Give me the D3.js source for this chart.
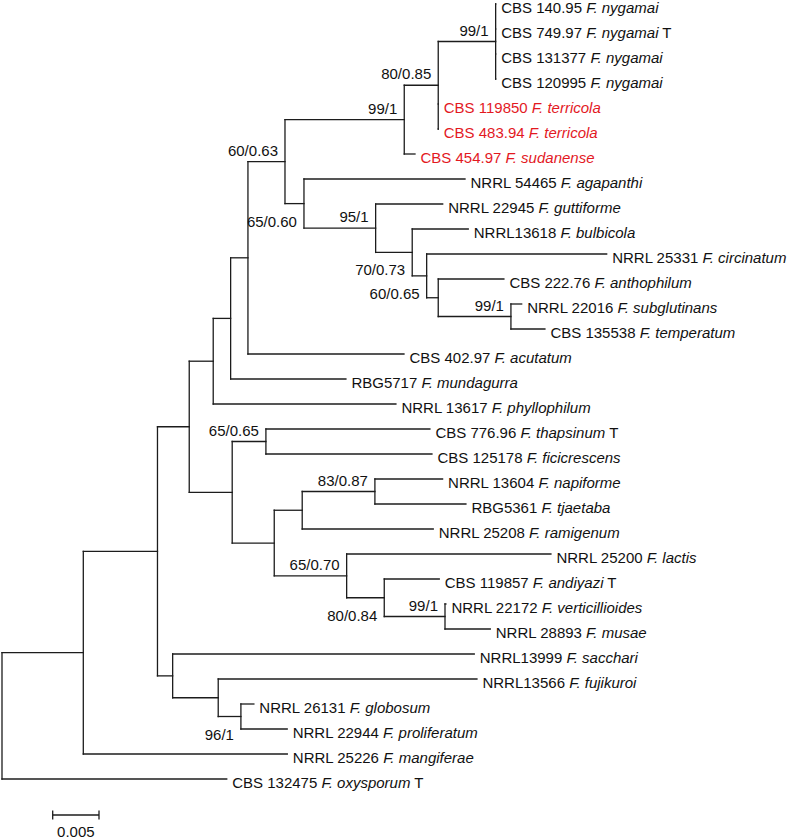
<!DOCTYPE html>
<html>
<head>
<meta charset="utf-8">
<script src="https://cdn.jsdelivr.net/npm/d3@7"></script>
<style>
  html, body { margin: 0; padding: 0; background: #fff; }
  svg text { font-family: "Liberation Sans", Arial, Helvetica, sans-serif; white-space: pre; }
</style>
</head>
<body>
<svg id="chart" width="796" height="838"></svg>
<script>
// ---------- DATA ----------
// Leaves in display order (top to bottom)
const leafStrains = [
  "CBS 140.95", "CBS 749.97", "CBS 131377", "CBS 120995",
  "CBS 119850", "CBS 483.94", "CBS 454.97",
  "NRRL 54465", "NRRL 22945", "NRRL13618", "NRRL 25331", "CBS 222.76",
  "NRRL 22016", "CBS 135538", "CBS 402.97", "RBG5717", "NRRL 13617",
  "CBS 776.96", "CBS 125178", "NRRL 13604", "RBG5361", "NRRL 25208",
  "NRRL 25200", "CBS 119857", "NRRL 22172", "NRRL 28893",
  "NRRL13999", "NRRL13566", "NRRL 26131", "NRRL 22944", "NRRL 25226",
  "CBS 132475"
];
const leafSpecies = [
  "F. nygamai", "F. nygamai", "F. nygamai", "F. nygamai",
  "F. terricola", "F. terricola", "F. sudanense",
  "F. agapanthi", "F. guttiforme", "F. bulbicola", "F. circinatum", "F. anthophilum",
  "F. subglutinans", "F. temperatum", "F. acutatum", "F. mundagurra", "F. phyllophilum",
  "F. thapsinum", "F. ficicrescens", "F. napiforme", "F. tjaetaba", "F. ramigenum",
  "F. lactis", "F. andiyazi", "F. verticillioides", "F. musae",
  "F. sacchari", "F. fujikuroi", "F. globosum", "F. proliferatum", "F. mangiferae",
  "F. oxysporum"
];
const leafTypeMarks = [
  "", "T", "", "", "", "", "", "", "", "", "", "", "", "", "", "", "",
  "T", "", "", "", "", "", "T", "", "", "", "", "", "", "", "T"
];

// Tree edges: [node, parent, branch length (substitutions/site), support (ML bootstrap / posterior)]
const treeEdges = [
  ["root", "", 0, ""],
  ["N1", "root", 0.00878, ""],
  ["N2", "N1", 0.00801, ""],
  ["D", "N2", 0.00343, ""],
  ["C", "D", 0.00259, ""],
  ["C2", "C", 0.00188, ""],
  ["A", "C2", 0.00187, ""],
  ["B", "A", 0.00400, "60/0.63"],
  ["M", "B", 0.01288, "99/1"],
  ["L", "M", 0.00367, "80/0.85"],
  ["Ny", "L", 0.00620, "99/1"],
  ["CBS 140.95", "Ny", 0, ""],
  ["CBS 749.97", "Ny", 0, ""],
  ["CBS 131377", "Ny", 0, ""],
  ["CBS 120995", "Ny", 0, ""],
  ["CBS 119850", "L", 0, ""],
  ["CBS 483.94", "L", 0, ""],
  ["CBS 454.97", "M", 0.00116, ""],
  ["P", "B", 0.00205, "65/0.60"],
  ["NRRL 54465", "P", 0.01739, ""],
  ["Q", "P", 0.00774, "95/1"],
  ["NRRL 22945", "Q", 0.00724, ""],
  ["R", "Q", 0.00395, "70/0.73"],
  ["NRRL13618", "R", 0.00605, ""],
  ["S", "R", 0.00156, "60/0.65"],
  ["NRRL 25331", "S", 0.01944, ""],
  ["T", "S", 0.00125, ""],
  ["CBS 222.76", "T", 0.00709, ""],
  ["U", "T", 0.00785, "99/1"],
  ["NRRL 22016", "U", 0.00116, ""],
  ["CBS 135538", "U", 0.00367, ""],
  ["CBS 402.97", "A", 0.01685, ""],
  ["RBG5717", "C2", 0.01245, ""],
  ["NRRL 13617", "C", 0.01973, ""],
  ["E", "D", 0.00464, ""],
  ["F", "E", 0.00364, "65/0.65"],
  ["CBS 776.96", "F", 0.01771, ""],
  ["CBS 125178", "F", 0.01793, ""],
  ["G", "E", 0.00454, ""],
  ["H", "G", 0.00302, ""],
  ["NT", "H", 0.00785, "83/0.87"],
  ["NRRL 13604", "NT", 0.00731, ""],
  ["RBG5361", "NT", 0.00983, ""],
  ["NRRL 25208", "H", 0.01415, ""],
  ["I", "G", 0.00782, "65/0.70"],
  ["NRRL 25200", "I", 0.02206, ""],
  ["J", "I", 0.00406, "80/0.84"],
  ["CBS 119857", "J", 0.00594, ""],
  ["K", "J", 0.00656, "99/1"],
  ["NRRL 22172", "K", 0.0001, ""],
  ["NRRL 28893", "K", 0.00489, ""],
  ["Ns", "N2", 0.00164, ""],
  ["NRRL13999", "Ns", 0.03257, ""],
  ["V", "Ns", 0.00492, ""],
  ["NRRL13566", "V", 0.02794, ""],
  ["W", "V", 0.00245, "96/1"],
  ["NRRL 26131", "W", 0.00140, ""],
  ["NRRL 22944", "W", 0.00500, ""],
  ["NRRL 25226", "N1", 0.02203, ""],
  ["CBS 132475", "root", 0.02427, ""]
];

const scaleBarValue = 0.005;

// ---------- STYLE / LAYOUT ----------
const highlightStrains = ["CBS 119850", "CBS 483.94", "CBS 454.97"];
const supportBelow = ["P", "R", "S", "J", "W"];
const lineColor = "#1c1c1c";
const textColor = "#111";
const redColor = "#e3191f";
const fontSize = 15;

const svg = d3.select("#chart");

const root = d3.stratify()
  .id(d => d[0])
  .parentId(d => d[1] || null)(treeEdges);

root.eachBefore(n => { n.len = (n.parent ? n.parent.len : 0) + n.data[2]; });

const maxLen = d3.max(root.leaves(), n => n.len);
const x = d3.scaleLinear().domain([0, 0.08]).range([2, 2 + 0.08 * 9260]);
const y = d3.scaleLinear().domain([0, leafStrains.length - 1]).range([4, 779]);

root.eachAfter(n => {
  if (n.children) {
    const c = n.children;
    n.yy = (c[0].yy + c[c.length - 1].yy) / 2;
  } else {
    n.yy = y(leafStrains.indexOf(n.id));
  }
});

const g = svg.append("g");

// horizontal branches
g.selectAll("line.h")
  .data(root.descendants().filter(n => n.parent))
  .join("line")
  .attr("class", "h")
  .attr("x1", n => x(n.parent.len))
  .attr("x2", n => x(n.len))
  .attr("y1", n => n.yy)
  .attr("y2", n => n.yy)
  .attr("stroke", lineColor)
  .attr("stroke-width", 1.3)
  .attr("stroke-linecap", "square");

// vertical connectors
g.selectAll("line.v")
  .data(root.descendants().filter(n => n.children))
  .join("line")
  .attr("class", "v")
  .attr("x1", n => x(n.len))
  .attr("x2", n => x(n.len))
  .attr("y1", n => n.children[0].yy)
  .attr("y2", n => n.children[n.children.length - 1].yy)
  .attr("stroke", lineColor)
  .attr("stroke-width", 1.3)
  .attr("stroke-linecap", "square");

// leaf labels
const leafLab = g.selectAll("text.leaf")
  .data(root.leaves())
  .join("text")
  .attr("class", "leaf")
  .attr("x", n => x(n.len) + 5.5)
  .attr("y", n => n.yy + 9)
  .attr("font-size", fontSize)
  .attr("fill", n => highlightStrains.includes(n.id) ? redColor : textColor);

leafLab.append("tspan").text(n => n.id);
leafLab.append("tspan").attr("font-style", "italic")
  .text(n => " " + leafSpecies[leafStrains.indexOf(n.id)]);
leafLab.append("tspan")
  .text(n => { const t = leafTypeMarks[leafStrains.indexOf(n.id)]; return t ? " " + t : ""; });

// support values
g.selectAll("text.sup")
  .data(root.descendants().filter(n => n.data[3]))
  .join("text")
  .attr("class", "sup")
  .attr("x", n => x(n.len) - 7)
  .attr("y", n => supportBelow.includes(n.id) ? n.yy + 23 : n.yy - 6)
  .attr("text-anchor", "end")
  .attr("font-size", fontSize)
  .attr("fill", textColor)
  .text(n => n.data[3]);

// scale bar
const sbX0 = 52.7, sbY = 815;
const sbW = x(scaleBarValue) - x(0);
const sb = svg.append("g").attr("stroke", lineColor).attr("stroke-width", 1.3);
sb.append("line").attr("x1", sbX0).attr("x2", sbX0 + sbW).attr("y1", sbY).attr("y2", sbY);
sb.append("line").attr("x1", sbX0).attr("x2", sbX0).attr("y1", sbY - 4.5).attr("y2", sbY + 4.5);
sb.append("line").attr("x1", sbX0 + sbW).attr("x2", sbX0 + sbW).attr("y1", sbY - 4.5).attr("y2", sbY + 4.5);
svg.append("text")
  .attr("x", sbX0 + sbW / 2)
  .attr("y", 836.5)
  .attr("text-anchor", "middle")
  .attr("font-size", fontSize)
  .attr("fill", textColor)
  .text(String(scaleBarValue));
</script>
</body>
</html>
